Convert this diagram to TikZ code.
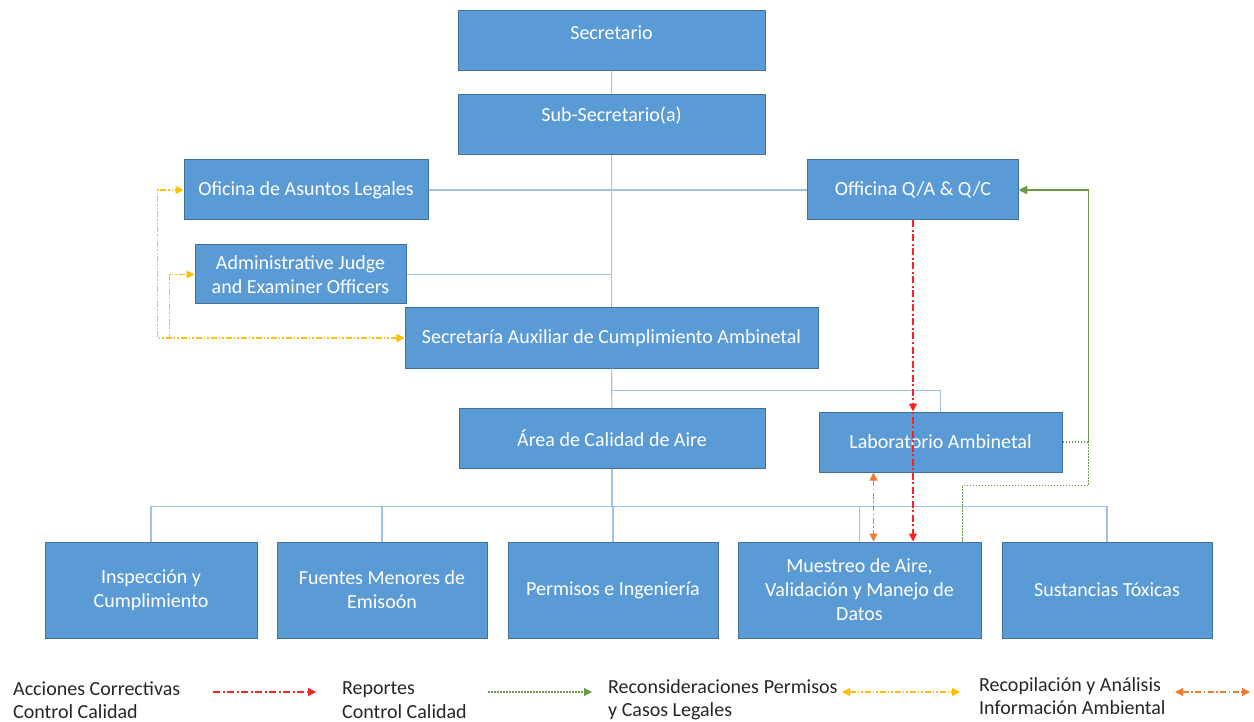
\documentclass[tikz,border=0pt]{standalone}
\usepackage{fontspec}
\setmainfont{Carlito}
\usetikzlibrary{arrows.meta}
\definecolor{boxfill}{HTML}{5B9BD5}
\definecolor{boxedge}{HTML}{41719C}
\definecolor{linkblue}{HTML}{9DC3E6}
\definecolor{qcred}{HTML}{FF2020}
\definecolor{repgreen}{HTML}{6A9A45}
\definecolor{legyellow}{HTML}{FFC000}
\definecolor{infoorange}{HTML}{ED7D31}

\begin{document}
\begin{tikzpicture}[x=1pt, y=-1pt,
  unit/.style={draw=boxedge, line width=1pt, fill=boxfill, text=white, align=center,
    inner sep=0pt, minimum height=60pt, font=\fontsize{20}{24}\selectfont},
  link/.style={draw=linkblue, line width=1.1pt},
  tip/.style={-{Triangle[length=8pt,width=8pt]}},
  corr/.style={draw=qcred, line width=1.2pt, dash pattern=on 7pt off 2.5pt on 2pt off 2.5pt, tip},
  rep/.style={draw=repgreen, line width=1.1pt, dash pattern=on 1.6pt off 1.4pt, tip},
  recon/.style={draw=legyellow, line width=1.1pt, dash pattern=on 6pt off 2pt on 1.5pt off 2pt on 1.5pt off 2pt,
    {Triangle[length=8pt,width=8pt]}-{Triangle[length=8pt,width=8pt]}},
  info/.style={draw=infoorange, line width=1.1pt, dash pattern=on 6pt off 2.5pt on 1.5pt off 2.5pt,
    {Triangle[length=8pt,width=8pt]}-{Triangle[length=8pt,width=8pt]}},
  legtext/.style={anchor=west, align=left, inner sep=0pt, text=black!85, font=\fontsize{20}{23.5}\selectfont}]
\useasboundingbox (0,0) rectangle (1254,722);

% Top of the chart
\node[unit, minimum width=307pt] (secr) at (611.5,41) {\raisebox{8pt}[\height][\depth]{Secretario}};
\node[unit, minimum width=307pt] (sub) at (611.5,125) {\raisebox{9pt}[\height][\depth]{Sub-Secretario(a)}};
\node[unit, minimum width=244pt] (legal) at (306,190) {Oficina de Asuntos Legales};
\node[unit, minimum width=211pt] (qa) at (913,190) {Officina Q/A \& Q/C};
\node[unit, minimum width=211pt, minimum height=59pt] (judge) at (300.5,274.5) {Administrative Judge\\and Examiner Officers};
\node[unit, minimum width=413pt] (aux) at (611.5,338) {Secretaría Auxiliar de Cumplimiento Ambinetal};
\node[unit, minimum width=306pt] (area) at (612,438) {Área de Calidad de Aire};
\node[unit, minimum width=243pt] (lab) at (940.5,442) {Laboratorio Ambinetal};

% Bottom row
\node[unit, minimum width=212pt, minimum height=96pt] (insp) at (151,590) {Inspección y\\Cumplimiento};
\node[unit, minimum width=210pt, minimum height=96pt] (fuen) at (382,590) {Fuentes Menores de\\Emisoón};
\node[unit, minimum width=210pt, minimum height=96pt] (perm) at (613,590) {Permisos e Ingeniería};
\node[unit, minimum width=243pt, minimum height=96pt] (mues) at (859.5,590) {Muestreo de Aire,\\Validación y Manejo de\\Datos};
\node[unit, minimum width=210pt, minimum height=96pt] (sust) at (1107,590) {Sustancias Tóxicas};

% Organisation lines
\draw[link] (secr) -- (sub);
\draw[link] (sub) -- (aux);
\draw[link] (legal) -- (qa);
\draw[link] (judge.east) -- (judge.east -| sub.south);
\draw[link] (aux) -- (area);
\draw[link] (aux.south) -- ++(0,22) -| (lab.north);
\foreach \b in {insp,fuen,perm,mues,sust}
  \draw[link] (area.south) -- ++(0,38) -| (\b.north);

% Flows between offices
\draw[corr] (qa.south) -- (qa.south |- mues.north);
\draw[corr] (qa.south) -- (qa.south |- lab.north);
\coordinate (gbus) at ([xshift=26pt]lab.east);
\draw[rep] (lab.east) -- (gbus) |- (qa.east);
\draw[rep] ([xshift=-19pt]mues.north east) -- ++(0,-56) -| (gbus) |- (qa.east);
\draw[recon] (aux.west) -- ++(-247,0) |- (legal.west);
\draw[recon] (aux.west) -- ++(-235,0) |- (judge.west);
\coordinate (olab) at ([xshift=-67pt]lab.south);
\draw[info] (olab) -- (olab |- mues.north);

% Legend
\node[legtext] (leg1) at (13,700) {Acciones Correctivas\\Control Calidad};
\node[legtext] (leg2) at (342,700) {Reportes\\Control Calidad};
\node[legtext] (leg3) at (608,700) {Reconsideraciones\hspace{5pt}Permisos\\y Casos Legales};
\node[legtext] (leg4) at (979,696) {Recopilación y Análisis\\Información Ambiental};
\coordinate (a1) at (213,692); \coordinate (b1) at (316,692);
\coordinate (a2) at (488,692); \coordinate (b2) at (592,692);
\coordinate (a3) at (842,692); \coordinate (b3) at (960,692);
\coordinate (a4) at (1175,692); \coordinate (b4) at (1250,692);
\draw[corr] (a1) -- (b1);
\draw[rep] (a2) -- (b2);
\draw[recon] (a3) -- (b3);
\draw[info] (a4) -- (b4);
\end{tikzpicture}
\end{document}
